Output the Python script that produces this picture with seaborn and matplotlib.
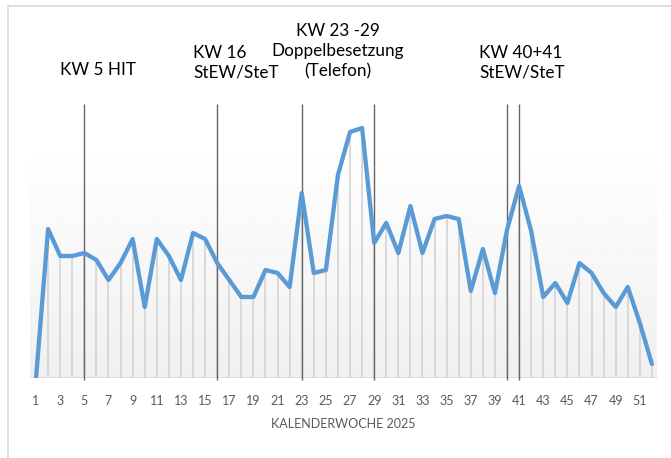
import numpy as np
import pandas as pd
import matplotlib
matplotlib.use("Agg")
import matplotlib.pyplot as plt
import seaborn as sns

# weekly values (no y axis shown, arbitrary units)
weeks = list(range(1, 53))
values = [0, 149, 122, 122, 125, 118, 98, 115, 139, 71,
          139, 122, 98, 145, 139, 115, 98, 81, 81, 108,
          105, 91, 185, 105, 108, 203, 246, 250, 135, 155,
          125, 172, 125, 159, 162, 159, 87, 129, 85, 148,
          192, 147, 81, 95, 75, 115, 105, 85, 71, 91,
          55, 14]
marker_weeks = [5, 16, 23, 29, 40, 41]
tick_weeks = list(range(1, 52, 2))

df = pd.DataFrame({"week": weeks, "value": values})

sns.set_style("white")
plt.rcParams["font.family"] = ["Lato", "DejaVu Sans"]

fig = plt.figure(figsize=(6.71, 4.58), dpi=100)
ax = fig.add_axes([30 / 671, 80 / 458, 627 / 671, 278 / 458])

# soft grey gradient behind the plot area
grad = np.linspace(0.94, 1.0, 256).reshape(-1, 1)
ax.imshow(grad, extent=(0.5, 52.42, 0, 238), origin="lower", cmap="gray",
          vmin=0, vmax=1, aspect="auto", zorder=0)

# drop lines
ax.vlines(df["week"], 0, df["value"], color="#d6d6d6", lw=1.3, zorder=1)
# event markers
ax.vlines(marker_weeks, -2, 274, color="#666666", lw=1.0, zorder=2, clip_on=False)

sns.lineplot(data=df, x="week", y="value", ax=ax, color="#5b9bd5", lw=3.1,
             zorder=3, solid_joinstyle="round", solid_capstyle="round")

ax.axhline(0, color="#d9d9d9", lw=1.2, zorder=1)
ax.set_xlim(0.5, 52.42)
ax.set_ylim(0, 278)
ax.set_yticks([])
ax.set_xticks(tick_weeks)
ax.set_xticklabels([str(w) for w in tick_weeks], fontsize=9, color="#595959")
ax.tick_params(axis="x", length=0, pad=12)
ax.set_xlabel("KALENDERWOCHE 2025", fontsize=9, color="#595959", labelpad=8)
ax.set_ylabel("")
for s in ax.spines.values():
    s.set_visible(False)

# annotations
tkw = dict(fontsize=12.3, color="#000000", transform=fig.transFigure)
fig.text(98 / 671, 1 - 70 / 458, "KW 5 HIT", ha="center", va="center", **tkw)
fig.text(193 / 671, 1 - 63 / 458, "KW 16\nStEW/SteT", ha="left", va="center",
         linespacing=1.3, **tkw)
fig.text(338 / 671, 1 - 51 / 458, "KW 23 -29\nDoppelbesetzung\n(Telefon)",
         ha="center", va="center", linespacing=1.3, **tkw)
fig.text(479 / 671, 1 - 63 / 458, "KW 40+41\nStEW/SteT", ha="left", va="center",
         linespacing=1.3, **tkw)

# light chart frame
fig.add_artist(plt.Rectangle((8 / 671, -0.1), 1.2, 1 - 6 / 458 + 0.1,
                             transform=fig.transFigure, fill=False,
                             edgecolor="#d9d9d9", lw=1.2))

fig.savefig("out.png", dpi=100)
